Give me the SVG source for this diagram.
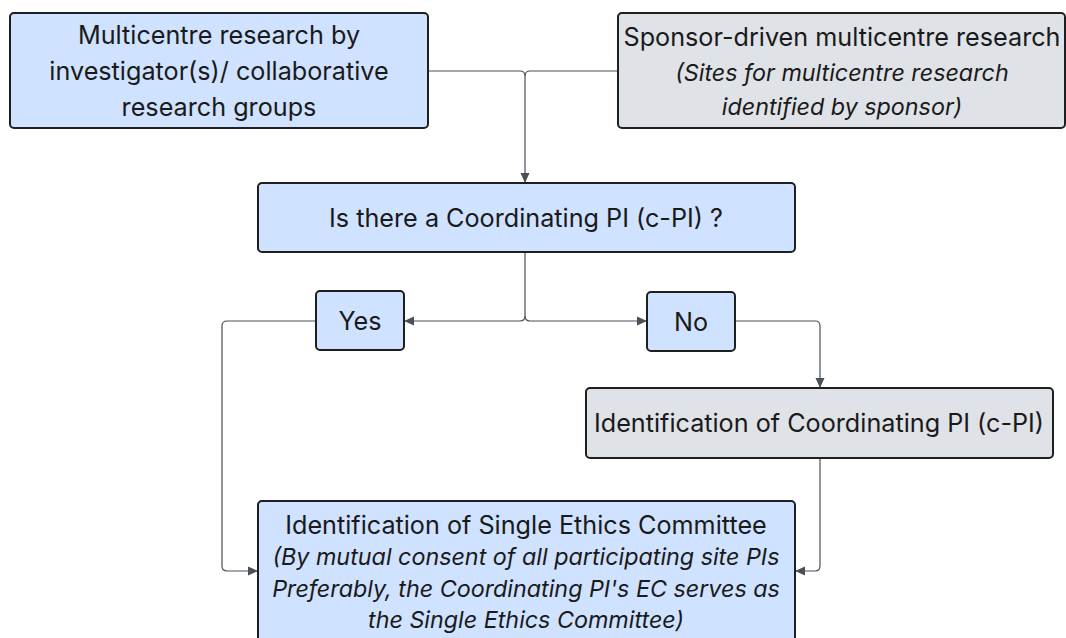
<svg xmlns="http://www.w3.org/2000/svg" width="1066" height="638" viewBox="0 0 1066 638">
<defs>
<marker id="ah" markerWidth="10" markerHeight="10" refX="9" refY="5" orient="auto" markerUnits="userSpaceOnUse">
<path d="M0,0.5 L10,5 L0,9.5 z" fill="#4a5058"/>
</marker>
<style>
.blue{fill:#cfe2ff;stroke:#1f1f1f;stroke-width:2}
.grey{fill:#dfe2e7;stroke:#1f1f1f;stroke-width:2}
text{font-family:Inter,"Noto Sans",sans-serif;font-size:25.2px;fill:#1a1a1a;text-anchor:middle}
.it{font-style:italic;font-size:23.3px}
.c{fill:none;stroke:#4a5058;stroke-width:1.2}
</style>
</defs>
<rect width="1066" height="638" fill="#ffffff"/>
<g id="connectors">
<path class="c" d="M428,71 H520 Q525,71 525,76 V182" marker-end="url(#ah)"/>
<path class="c" d="M618,71 H530 Q525,71 525,76"/>
<path class="c" d="M525,252 V316 Q525,321 520,321 H405" marker-end="url(#ah)"/>
<path class="c" d="M525,316 Q525,321 530,321 H646" marker-end="url(#ah)"/>
<path class="c" d="M316,321 H227 Q222,321 222,326 V566 Q222,571 227,571 H257" marker-end="url(#ah)"/>
<path class="c" d="M735,321 H815 Q820,321 820,326 V387" marker-end="url(#ah)"/>
<path class="c" d="M820,458 V566 Q820,571 815,571 H796" marker-end="url(#ah)"/>
</g>
<g id="n1">
<rect class="blue" x="10" y="13" width="418" height="115" rx="4"/>
<text x="219" y="44">Multicentre research by</text>
<text x="219" y="80">investigator(s)/ collaborative</text>
<text x="219" y="116">research groups</text>
</g>
<g id="n2">
<rect class="grey" x="618" y="13" width="447" height="115" rx="4"/>
<text x="842" y="46">Sponsor-driven multicentre research</text>
<text x="842" y="81" class="it">(Sites for multicentre research</text>
<text x="842" y="115" class="it">identified by sponsor)</text>
</g>
<g id="n3">
<rect class="blue" x="258" y="183" width="537" height="69" rx="4"/>
<text x="526" y="227">Is there a Coordinating PI (c-PI) ?</text>
</g>
<g id="yes">
<rect class="blue" x="316" y="291" width="88" height="59" rx="4"/>
<text x="360" y="330">Yes</text>
</g>
<g id="no">
<rect class="blue" x="647" y="292" width="88" height="59" rx="4"/>
<text x="691" y="331">No</text>
</g>
<g id="n4">
<rect class="grey" x="586" y="388" width="467" height="70" rx="4"/>
<text x="819" y="432">Identification of Coordinating PI (c-PI)</text>
</g>
<g id="n5">
<rect class="blue" x="258" y="501" width="537" height="145" rx="4"/>
<text x="526" y="534">Identification of Single Ethics Committee</text>
<text x="526" y="565" class="it">(By mutual consent of all participating site PIs</text>
<text x="526" y="597" class="it">Preferably, the Coordinating PI's EC serves as</text>
<text x="526" y="628" class="it">the Single Ethics Committee)</text>
</g>
</svg>
